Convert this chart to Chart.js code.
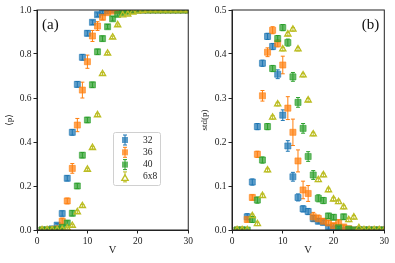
<!DOCTYPE html>
<html>
<head>
<meta charset="utf-8">
<script src="https://cdn.jsdelivr.net/npm/chart.js@4"></script>
<style>
  body { margin: 0; background: #fff; }
  canvas { position: absolute; top: 0; }
</style>
</head>
<body>
<canvas id="chartA" width="195" height="263" style="left:0"></canvas>
<canvas id="chartB" width="200" height="263" style="left:195px"></canvas>
<script>
// V values (x axis)
const V = [1,2,3,4,5,6,7,8,9,10,11,12,13,14,15,16,17,18,19,20,21,22,23,24,25,26,27,28,29,30];
const seriesNames = ['32', '36', '40', '6x8'];

// panel (a): <p>
const a32 = [0,0,0.005,0.022,0.075,0.235,0.444,0.662,0.785,0.894,0.944,0.979,0.99,0.997,1,1,1,1,1,1,1,1,1,1,1,1,1,1,1,1];
const a36 = [0,0,0.002,0.005,0.04,0.132,0.28,0.477,0.636,0.765,0.882,0.927,0.967,0.988,0.995,0.998,1,1,1,1,1,1,1,1,1,1,1,1,1,1];
const a40 = [0,0,0,0.002,0.012,0.032,0.076,0.2,0.34,0.5,0.66,0.81,0.87,0.924,0.96,0.98,0.99,0.995,0.998,1,1,1,1,1,1,1,1,1,1,1];
const a68 = [0,0,0,0,0.002,0.008,0.02,0.082,0.11,0.275,0.374,0.523,0.71,0.803,0.876,0.932,0.977,0.98,0.99,0.995,0.998,1,1,1,1,1,1,1,1,1];
const ea32 = [0,0,0.004,0.008,0.012,0.012,0.013,0.013,0.013,0.012,0.01,0.008,0.006,0.003,0,0,0,0,0,0,0,0,0,0,0,0,0,0,0,0];
const ea36 = [0,0,0.003,0.005,0.014,0.013,0.022,0.03,0.036,0.03,0.025,0.02,0.012,0.006,0.004,0.002,0,0,0,0,0,0,0,0,0,0,0,0,0,0];
const ea40 = [0,0,0,0.003,0.006,0.01,0.012,0.012,0.012,0.012,0.012,0.012,0.012,0.01,0.01,0.008,0.006,0.004,0.002,0,0,0,0,0,0,0,0,0,0,0];
const ea68 = [0,0,0,0,0.002,0.004,0.006,0.006,0.006,0.006,0.006,0.006,0.006,0.006,0.006,0.005,0.004,0.004,0.003,0.002,0.001,0,0,0,0,0,0,0,0,0];

// panel (b): std(p)
const b32 = [0,0,0.03,0.109,0.235,0.379,0.44,0.417,0.354,0.261,0.191,0.121,0.074,0.048,0.042,0.026,0.02,0.017,0.006,0.005,0.002,0,0,0,0,0,0,0,0,0];
const b36 = [0,0,0.024,0.074,0.172,0.305,0.404,0.454,0.424,0.375,0.277,0.222,0.157,0.091,0.083,0.03,0.026,0.02,0.016,0.01,0.017,0.007,0.003,0,0,0,0,0,0,0];
const b40 = [0,0,0,0.024,0.068,0.159,0.235,0.367,0.435,0.46,0.426,0.348,0.29,0.231,0.167,0.125,0.072,0.067,0.032,0.029,0.005,0.03,0.002,0,0,0,0,0,0,0];
const b68 = [0,0,0,0.032,0.014,0.078,0.136,0.256,0.286,0.411,0.445,0.456,0.411,0.352,0.295,0.218,0.114,0.125,0.091,0.07,0.064,0.052,0.023,0.029,0.005,0,0,0,0,0];
const eb32 = [0,0,0.007,0.007,0.007,0.007,0.007,0.007,0.01,0.012,0.012,0.01,0.008,0.007,0.007,0.007,0.006,0.005,0.004,0.003,0.002,0,0,0,0,0,0,0,0,0];
const eb36 = [0,0,0.006,0.006,0.007,0.012,0.01,0.008,0.008,0.02,0.026,0.03,0.025,0.02,0.018,0.01,0.008,0.006,0.006,0.005,0.006,0.004,0.002,0,0,0,0,0,0,0];
const eb40 = [0,0,0,0.007,0.007,0.007,0.007,0.007,0.007,0.007,0.008,0.01,0.011,0.011,0.011,0.01,0.008,0.007,0.006,0.006,0.003,0.006,0.002,0,0,0,0,0,0,0];
const eb68 = [0,0,0,0.004,0.004,0.004,0.004,0.004,0.004,0.004,0.004,0.004,0.004,0.004,0.004,0.004,0.004,0.004,0.004,0.004,0.004,0.004,0.004,0.004,0.002,0,0,0,0,0];

const colors = ['#1f77b4', '#ff7f0e', '#2ca02c', '#bcbd22'];
const fills = ['rgba(31,119,180,0.72)', 'rgba(255,127,14,0.72)', 'rgba(44,160,44,0.72)', 'rgba(0,0,0,0)'];
const serif = '"Liberation Serif", "DejaVu Serif", serif';

function makeSet(i, vals, errs) {
  const tri = i === 3;
  return {
    label: seriesNames[i],
    data: V.map((v, k) => ({ x: v, y: vals[k] })),
    err: errs,
    errColor: colors[i],
    pointStyle: tri ? 'triangle' : 'rect',
    pointRadius: tri ? 3.6 : 4.3,
    backgroundColor: fills[i],
    borderColor: tri ? colors[i] : fills[i],
    borderWidth: tri ? 1.3 : 0.8,
    showLine: false,
    order: 4 - i,
    clip: 0
  };
}

// error bars drawn under the markers
const errorBars = {
  id: 'errorBars',
  beforeDatasetsDraw(chart) {
    const { ctx, chartArea: a } = chart;
    const xs = chart.scales.x, ys = chart.scales.y;
    ctx.save();
    ctx.beginPath();
    ctx.rect(a.left, a.top, a.right - a.left, a.bottom - a.top);
    ctx.clip();
    ctx.lineWidth = 1;
    chart.data.datasets.forEach(d => {
      ctx.strokeStyle = d.errColor;
      d.data.forEach((p, k) => {
        const e = d.err[k];
        if (!e) return;
        const px = xs.getPixelForValue(p.x);
        const y1 = ys.getPixelForValue(p.y - e), y2 = ys.getPixelForValue(p.y + e);
        ctx.beginPath();
        ctx.moveTo(px, y1); ctx.lineTo(px, y2);
        ctx.moveTo(px - 2, y1); ctx.lineTo(px + 2, y1);
        ctx.moveTo(px - 2, y2); ctx.lineTo(px + 2, y2);
        ctx.stroke();
      });
    });
    ctx.restore();
  }
};

// box around the plot + panel label
const frame = {
  id: 'frame',
  afterDatasetsDraw(chart, args, opts) {
    const { ctx, chartArea: a } = chart;
    ctx.save();
    ctx.strokeStyle = '#222';
    ctx.lineWidth = 1;
    ctx.strokeRect(a.left, a.top, a.right - a.left, a.bottom - a.top);
    ctx.fillStyle = '#111';
    ctx.font = '15px ' + serif;
    ctx.textBaseline = 'middle';
    if (opts.side === 'left') {
      ctx.textAlign = 'left';
      ctx.fillText(opts.text, a.left + 5, a.top + 15);
    } else {
      ctx.textAlign = 'right';
      ctx.fillText(opts.text, a.right - 5, a.top + 15);
    }
    ctx.restore();
  }
};

// legend inside panel (a)
const boxLegend = {
  id: 'boxLegend',
  afterDraw(chart, args, opts) {
    if (!opts.show) return;
    const ctx = chart.ctx;
    ctx.save();
    ctx.fillStyle = 'rgba(255,255,255,0.85)';
    ctx.strokeStyle = '#d0d0d0';
    ctx.lineWidth = 1;
    ctx.beginPath();
    ctx.roundRect(113.5, 132.5, 47, 53, 2);
    ctx.fill();
    ctx.stroke();
    ctx.font = '9.5px ' + serif;
    ctx.textBaseline = 'middle';
    ctx.textAlign = 'left';
    seriesNames.forEach((name, i) => {
      const y = 140 + i * 12.3, x = 125;
      ctx.strokeStyle = colors[i];
      ctx.lineWidth = 1;
      ctx.beginPath();
      ctx.moveTo(x, y - 5); ctx.lineTo(x, y + 5);
      ctx.moveTo(x - 2, y - 5); ctx.lineTo(x + 2, y - 5);
      ctx.moveTo(x - 2, y + 5); ctx.lineTo(x + 2, y + 5);
      ctx.stroke();
      if (i < 3) {
        ctx.fillStyle = fills[i];
        ctx.fillRect(x - 3, y - 3, 6, 6);
      } else {
        ctx.lineWidth = 1.3;
        ctx.beginPath();
        ctx.moveTo(x, y - 2); ctx.lineTo(x + 3.2, y + 3.5); ctx.lineTo(x - 3.2, y + 3.5); ctx.closePath();
        ctx.fillStyle = '#fff';
        ctx.fill();
        ctx.stroke();
      }
      ctx.fillStyle = '#222';
      ctx.fillText(name, 143, y);
    });
    ctx.restore();
  }
};

function makeChart(id, sets, yMax, yStep, yTitle, label, side, rightPad, showLegend) {
  return new Chart(document.getElementById(id), {
    type: 'scatter',
    data: { datasets: sets },
    plugins: [errorBars, frame, boxLegend],
    options: {
      responsive: false,
      animation: false,
      layout: { padding: { top: 10, right: rightPad, left: 0, bottom: 0 } },
      plugins: {
        legend: { display: false },
        tooltip: { enabled: false },
        frame: { text: label, side: side },
        boxLegend: { show: showLegend }
      },
      scales: {
        x: {
          type: 'linear', min: 0, max: 30,
          ticks: { stepSize: 10, color: '#222', font: { family: serif, size: 9.5 }, padding: 2, maxRotation: 0 },
          grid: { drawOnChartArea: false, drawTicks: true, tickLength: 3.5, color: '#222' },
          border: { color: '#222' },
          title: { display: true, text: 'V', color: '#222', font: { family: serif, size: 10.5 }, padding: { top: 2, bottom: 6 } },
          afterFit: s => { s.height = 33; }
        },
        y: {
          min: 0, max: yMax,
          ticks: { stepSize: yStep, color: '#222', font: { family: serif, size: 9.5 }, padding: 2, callback: v => v.toFixed(1) },
          grid: { drawOnChartArea: false, drawTicks: true, tickLength: 3.5, color: '#222' },
          border: { color: '#222' },
          title: { display: true, text: yTitle, color: '#222', font: { family: serif, size: 9 }, padding: { top: 4, bottom: 2 } },
          afterFit: s => { s.width = 37; }
        }
      }
    }
  });
}

makeChart('chartA',
  [makeSet(0, a32, ea32), makeSet(1, a36, ea36), makeSet(2, a40, ea40), makeSet(3, a68, ea68)],
  1, 0.2, '⟨p⟩', '(a)', 'left', 5.7, true);

makeChart('chartB',
  [makeSet(0, b32, eb32), makeSet(1, b36, eb36), makeSet(2, b40, eb40), makeSet(3, b68, eb68)],
  0.5, 0.1, 'std(p)', '(b)', 'right', 10.7, false);
</script>
</body>
</html>
